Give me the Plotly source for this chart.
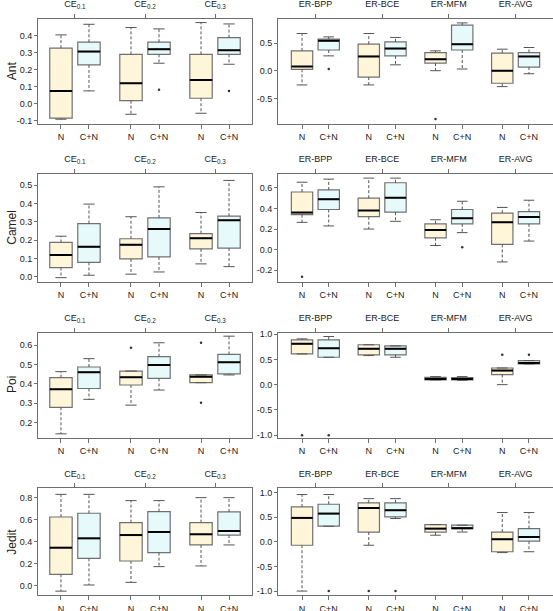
import plotly.graph_objects as go

# ---------------- data (lw, q1, median, q3, uw) per category ----------------
PROJECTS = ["Ant", "Camel", "Poi", "Jedit"]
GROUPS = ["N", "C+N"]
CE_CATS = ["CE<sub>0.1</sub>", "CE<sub>0.2</sub>", "CE<sub>0.3</sub>"]
ER_CATS = ["ER-BPP", "ER-BCE", "ER-MFM", "ER-AVG"]

ANT_CE_N = [(-0.09, -0.083, 0.076, 0.326, 0.404), (-0.061, 0.019, 0.12, 0.29, 0.447), (-0.055, 0.033, 0.14, 0.29, 0.476)]
ANT_CE_CN = [(0.076, 0.228, 0.306, 0.361, 0.466), (0.238, 0.29, 0.32, 0.361, 0.439), (0.232, 0.29, 0.314, 0.388, 0.468)]
ANT_CE_OUT = [(1, 1, 0.082), (2, 1, 0.076)]
ANT_ER_N = [(-0.25, 0.03, 0.08, 0.36, 0.67), (-0.25, -0.11, 0.26, 0.48, 0.67), (0.005, 0.14, 0.21, 0.33, 0.36), (-0.28, -0.22, 0.005, 0.32, 0.39)]
ANT_ER_CN = [(0.27, 0.375, 0.54, 0.57, 0.61), (0.11, 0.27, 0.40, 0.52, 0.60), (0.035, 0.375, 0.48, 0.82, 0.86), (-0.05, 0.07, 0.26, 0.33, 0.42)]
ANT_ER_OUT = [(2, 0, -0.86), (0, 1, 0.035)]

CAMEL_CE_N = [(-0.005, 0.05, 0.119, 0.187, 0.221), (0.014, 0.097, 0.174, 0.207, 0.327), (0.07, 0.152, 0.21, 0.235, 0.35)]
CAMEL_CE_CN = [(0.008, 0.078, 0.163, 0.29, 0.396), (0.026, 0.108, 0.26, 0.321, 0.49), (0.055, 0.156, 0.308, 0.33, 0.525)]
CAMEL_CE_OUT = []
CAMEL_ER_N = [(0.265, 0.34, 0.36, 0.56, 0.655), (0.2, 0.32, 0.38, 0.50, 0.695), (0.04, 0.115, 0.19, 0.25, 0.29), (-0.12, 0.05, 0.265, 0.355, 0.41)]
CAMEL_ER_CN = [(0.23, 0.39, 0.49, 0.58, 0.685), (0.275, 0.364, 0.505, 0.65, 0.695), (0.165, 0.25, 0.305, 0.39, 0.47), (0.083, 0.25, 0.317, 0.37, 0.48)]
CAMEL_ER_OUT = [(0, 0, -0.265), (2, 1, 0.023)]

POI_CE_N = [(0.142, 0.279, 0.372, 0.432, 0.463), (0.29, 0.394, 0.434, 0.466, 0.466), (0.406, 0.406, 0.437, 0.446, 0.446)]
POI_CE_CN = [(0.32, 0.376, 0.46, 0.487, 0.53), (0.368, 0.428, 0.497, 0.54, 0.612), (0.446, 0.451, 0.511, 0.552, 0.646)]
POI_CE_OUT = [(1, 0, 0.586), (2, 0, 0.612), (2, 0, 0.303)]
POI_ER_N = [(0.609, 0.609, 0.808, 0.887, 0.907), (0.576, 0.59, 0.71, 0.79, 0.79), (0.093, 0.093, 0.113, 0.146, 0.159), (0.0, 0.2, 0.278, 0.33, 0.33)]
POI_ER_CN = [(0.543, 0.543, 0.72, 0.887, 0.954), (0.543, 0.59, 0.71, 0.768, 0.768), (0.086, 0.093, 0.113, 0.139, 0.159), (0.41, 0.41, 0.43, 0.477, 0.477)]
POI_ER_OUT = [(0, 0, -1.0), (0, 1, -1.0), (3, 0, 0.59), (3, 1, 0.59)]

JEDIT_CE_N = [(-0.05, 0.103, 0.345, 0.624, 0.83), (0.03, 0.224, 0.46, 0.573, 0.773), (0.179, 0.37, 0.467, 0.573, 0.8)]
JEDIT_CE_CN = [(0.006, 0.248, 0.43, 0.658, 0.83), (0.173, 0.3, 0.488, 0.673, 0.773), (0.37, 0.46, 0.497, 0.67, 0.8)]
JEDIT_CE_OUT = []
JEDIT_ER_N = [(-1.0, -0.068, 0.488, 0.712, 0.963), (-0.068, 0.2, 0.69, 0.793, 0.88), (0.136, 0.2, 0.27, 0.353, 0.353), (-0.217, -0.2, 0.054, 0.2, 0.597)]
JEDIT_ER_CN = [(0.319, 0.319, 0.576, 0.766, 0.963), (0.475, 0.508, 0.644, 0.793, 0.88), (0.2, 0.27, 0.278, 0.34, 0.34), (-0.2, 0.014, 0.1, 0.27, 0.597)]
JEDIT_ER_OUT = [(0, 1, -1.0), (1, 0, -1.0), (1, 1, -1.0)]

# y tick values / labels
ANT_CE_YT = [-0.1, 0.0, 0.1, 0.2, 0.3, 0.4]
ANT_ER_YT = [-0.5, 0.0, 0.5]
CAMEL_CE_YT = [0.0, 0.1, 0.2, 0.3, 0.4, 0.5]
CAMEL_ER_YT = [-0.2, 0.0, 0.2, 0.4, 0.6]
POI_CE_YT = [0.2, 0.3, 0.4, 0.5, 0.6]
POI_ER_YT = [-1.0, -0.5, 0.0, 0.5, 1.0]
JEDIT_CE_YT = [0.0, 0.2, 0.4, 0.6, 0.8]
JEDIT_ER_YT = [-1.0, -0.5, 0.0, 0.5, 1.0]

# ---------------- styling / layout ----------------
W, H = 553, 611
FONT = "Liberation Sans, Arial, sans-serif"
FILL = ["#FFF6DA", "#E6FAFB"]
BOX_LINE = "#707070"
WHISK = "#555555"
AXC = "#6E6E6E"
TXT = "#222222"

ROWS_PX = [(19, 123.5), (174, 281.5), (332.5, 437.5), (488.3, 595)]
LEFT_PX = (38, 252)
RIGHT_PX = (278, 553)
CE_XR = [0.18, 7.82]
ER_XR = [0.1, 10.4]
YRANGES = [
    ([-0.115, 0.497], [-0.94, 0.93]),
    ([-0.026, 0.56], [-0.31, 0.735]),
    ([0.123, 0.665], [-1.047, 1.033]),
    ([-0.085, 0.885], [-1.08, 1.09]),
]

DATA = [
    (ANT_CE_N, ANT_CE_CN, ANT_CE_OUT, ANT_CE_YT, ANT_ER_N, ANT_ER_CN, ANT_ER_OUT, ANT_ER_YT),
    (CAMEL_CE_N, CAMEL_CE_CN, CAMEL_CE_OUT, CAMEL_CE_YT, CAMEL_ER_N, CAMEL_ER_CN, CAMEL_ER_OUT, CAMEL_ER_YT),
    (POI_CE_N, POI_CE_CN, POI_CE_OUT, POI_CE_YT, POI_ER_N, POI_ER_CN, POI_ER_OUT, POI_ER_YT),
    (JEDIT_CE_N, JEDIT_CE_CN, JEDIT_CE_OUT, JEDIT_CE_YT, JEDIT_ER_N, JEDIT_ER_CN, JEDIT_ER_OUT, JEDIT_ER_YT),
]


def pos(i, g):
    return 1 + 2.5 * i + g


def fmt(v):
    return "%.1f" % v


fig = go.Figure()
layout = dict(
    width=W, height=H, margin=dict(l=0, r=0, t=0, b=0, pad=0, autoexpand=False),
    paper_bgcolor="white", plot_bgcolor="white", boxmode="overlay",
    showlegend=False, font=dict(family=FONT, size=9, color=TXT),
)
annotations = []


def add_panel(k, cats, stats_n, stats_cn, outs, yt, xr, yr, xpx, ypx):
    xa, ya = "x%d" % k, "y%d" % k
    xt = "x%d" % (k + 8)
    for g, stats in enumerate([stats_n, stats_cn]):
        xs = [pos(i, g) for i in range(len(cats))]
        fig.add_trace(go.Box(
            x=xs, q1=[s[1] for s in stats], median=[s[2] for s in stats], q3=[s[3] for s in stats],
            lowerfence=[s[1] for s in stats], upperfence=[s[3] for s in stats],
            width=0.8, whiskerwidth=0, fillcolor=FILL[g], line=dict(color=BOX_LINE, width=1.2),
            boxpoints=False, hoverinfo="skip", xaxis=xa, yaxis=ya, showlegend=False))
        wx, wy, cx, cy, mx, my = [], [], [], [], [], []
        for x, s in zip(xs, stats):
            lw, q1, med, q3, uw = s
            wx += [x, x, None, x, x, None]
            wy += [q3, uw, None, q1, lw, None]
            cx += [x - 0.2, x + 0.2, None, x - 0.2, x + 0.2, None]
            cy += [uw, uw, None, lw, lw, None]
            mx += [x - 0.4, x + 0.4, None]
            my += [med, med, None]
        fig.add_trace(go.Scatter(x=wx, y=wy, mode="lines", line=dict(color=WHISK, width=1, dash="3px,2px"),
                                 hoverinfo="skip", xaxis=xa, yaxis=ya, showlegend=False))
        fig.add_trace(go.Scatter(x=cx, y=cy, mode="lines", line=dict(color=WHISK, width=1),
                                 hoverinfo="skip", xaxis=xa, yaxis=ya, showlegend=False))
        fig.add_trace(go.Scatter(x=mx, y=my, mode="lines", line=dict(color="black", width=2),
                                 hoverinfo="skip", xaxis=xa, yaxis=ya, showlegend=False))
    if outs:
        fig.add_trace(go.Scatter(x=[pos(i, g) for i, g, v in outs], y=[v for i, g, v in outs], mode="markers",
                                 marker=dict(color="#333333", size=2.5), hoverinfo="skip",
                                 xaxis=xa, yaxis=ya, showlegend=False))
    # invisible trace so the top (category) axis is drawn
    fig.add_trace(go.Scatter(x=[pos(0, 0)], y=[None], mode="markers", marker=dict(opacity=0),
                             hoverinfo="skip", xaxis=xt, yaxis=ya, showlegend=False))
    dx = [xpx[0] / W, xpx[1] / W]
    dy = [1 - ypx[1] / H, 1 - ypx[0] / H]
    tickpos = [pos(i, g) for i in range(len(cats)) for g in range(2)]
    ticklab = [GROUPS[g] for i in range(len(cats)) for g in range(2)]
    sfx = "" if k == 1 else str(k)
    layout["xaxis" + sfx] = dict(
        domain=dx, anchor=ya, range=xr, tickmode="array", tickvals=tickpos, ticktext=ticklab,
        ticks="outside", ticklen=4, tickcolor=AXC, showline=True, mirror=True, linecolor=AXC,
        linewidth=1, showgrid=False, zeroline=False, tickfont=dict(size=9, color=TXT),
        ticklabelstandoff=1, automargin=False, fixedrange=True)
    layout["yaxis" + sfx] = dict(
        domain=dy, anchor=xa, range=yr, tickmode="array", tickvals=yt, ticktext=[fmt(v) for v in yt],
        ticks="outside", ticklen=3, tickcolor=AXC, showline=True, mirror=True, linecolor=AXC,
        linewidth=1, showgrid=False, zeroline=False, tickfont=dict(size=9, color=TXT),
        automargin=False, fixedrange=True)
    layout["xaxis%d" % (k + 8)] = dict(
        overlaying=xa, anchor=ya, side="top", range=xr, tickmode="array",
        tickvals=[pos(i, 0) + 0.5 for i in range(len(cats))], ticktext=cats,
        ticks="outside", ticklen=4, tickcolor=AXC, showline=False, showgrid=False, zeroline=False,
        tickfont=dict(size=9, color=TXT), ticklabelstandoff=3, automargin=False, fixedrange=True)


for r, proj in enumerate(PROJECTS):
    ce_n, ce_cn, ce_out, ce_yt, er_n, er_cn, er_out, er_yt = DATA[r]
    add_panel(2 * r + 1, CE_CATS, ce_n, ce_cn, ce_out, ce_yt, CE_XR, YRANGES[r][0], LEFT_PX, ROWS_PX[r])
    add_panel(2 * r + 2, ER_CATS, er_n, er_cn, er_out, er_yt, ER_XR, YRANGES[r][1], RIGHT_PX, ROWS_PX[r])
    yc = 1 - (ROWS_PX[r][0] + ROWS_PX[r][1]) / 2 / H
    annotations.append(dict(text=proj, x=12 / W, y=yc, xref="paper", yref="paper", textangle=-90,
                            showarrow=False, xanchor="center", yanchor="middle",
                            font=dict(size=12, color="#222222", family=FONT)))

layout["annotations"] = annotations
fig.update_layout(**layout)
fig.write_html("out.html", config={"displayModeBar": False},
               post_script="document.body.style.margin='0';document.body.style.overflow='hidden';")
